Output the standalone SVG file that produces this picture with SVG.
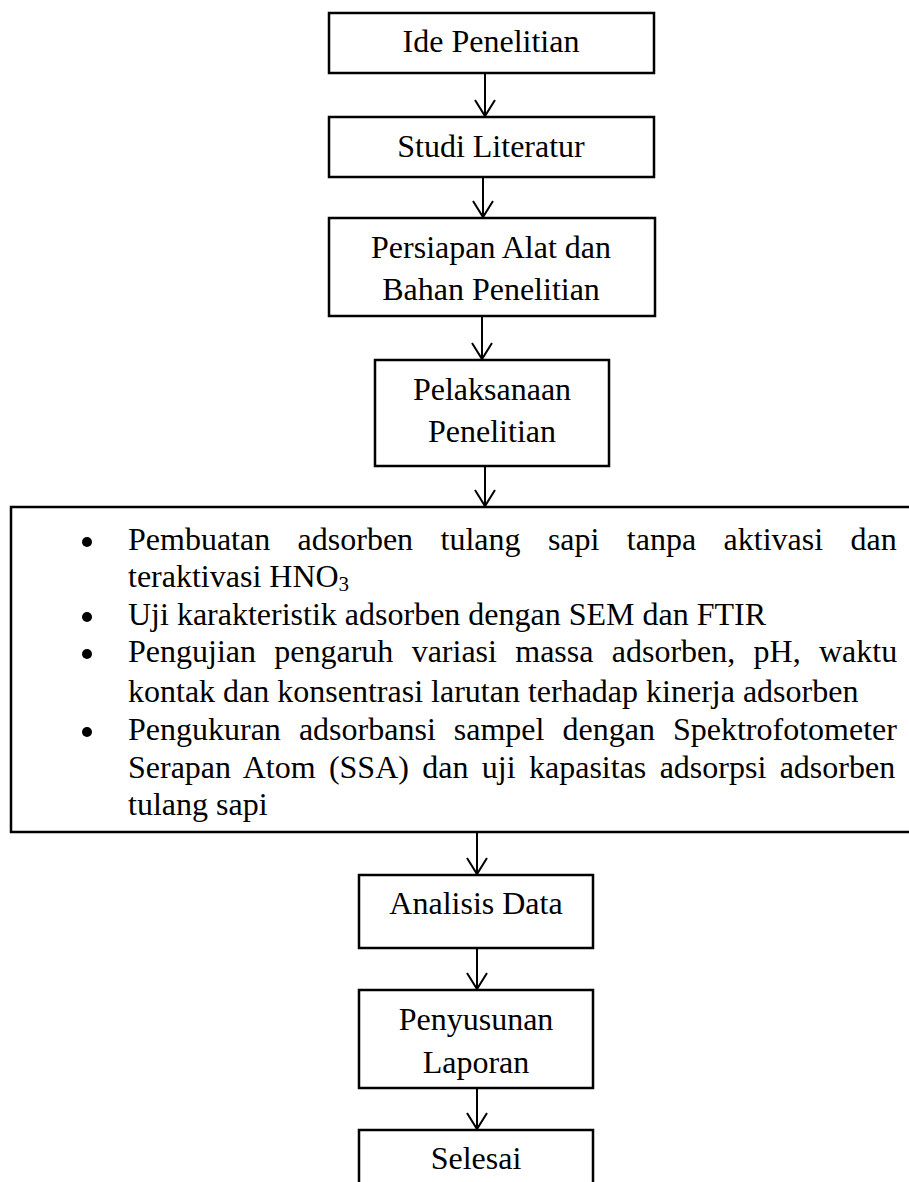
<svg xmlns="http://www.w3.org/2000/svg" width="909" height="1182" viewBox="0 0 909 1182">
<defs>
<style>
.box{fill:#fff;stroke:#000;stroke-width:2.5}
.lbl{font-family:"Liberation Serif","Times New Roman",serif;font-size:32px;fill:#000;text-anchor:middle}
.txt{font-family:"Liberation Serif","Times New Roman",serif;font-size:32px;fill:#000}
.con{fill:none;stroke:#000;stroke-width:2}
</style>
<marker id="ah" viewBox="-18 -12 20 24" refX="0" refY="0" markerWidth="20" markerHeight="24" markerUnits="userSpaceOnUse" orient="auto">
<path d="M-16,-10 L0,0 L-16,10" fill="none" stroke="#000" stroke-width="2"/>
</marker>
</defs>
<rect width="909" height="1182" fill="#fff"/>
<g id="connectors">
<line class="con" x1="485" y1="73" x2="485" y2="116" marker-end="url(#ah)"/>
<line class="con" x1="483" y1="177" x2="483" y2="217" marker-end="url(#ah)"/>
<line class="con" x1="482" y1="316" x2="482" y2="359" marker-end="url(#ah)"/>
<line class="con" x1="485" y1="466" x2="485" y2="506" marker-end="url(#ah)"/>
<line class="con" x1="477" y1="832" x2="477" y2="874" marker-end="url(#ah)"/>
<line class="con" x1="477" y1="948" x2="477" y2="989" marker-end="url(#ah)"/>
<line class="con" x1="477" y1="1088" x2="477" y2="1129" marker-end="url(#ah)"/>
</g>
<g id="ide">
<rect class="box" x="329" y="13" width="325" height="60"/>
<text class="lbl" x="491" y="52">Ide Penelitian</text>
</g>
<g id="studi">
<rect class="box" x="329" y="117" width="325" height="60"/>
<text class="lbl" x="491" y="157">Studi Literatur</text>
</g>
<g id="persiapan">
<rect class="box" x="329" y="218" width="326" height="98"/>
<text class="lbl" x="491" y="258">Persiapan Alat dan</text>
<text class="lbl" x="491" y="300">Bahan Penelitian</text>
</g>
<g id="pelaksanaan">
<rect class="box" x="375" y="360" width="234" height="106"/>
<text class="lbl" x="492" y="400">Pelaksanaan</text>
<text class="lbl" x="492" y="442">Penelitian</text>
</g>
<g id="kegiatan">
<rect class="box" x="11" y="507" width="920" height="325"/>
<circle cx="87" cy="542" r="5"/>
<circle cx="87" cy="617" r="5"/>
<circle cx="87" cy="654" r="5"/>
<circle cx="87" cy="732" r="5"/>
<text class="txt" x="128" y="550" word-spacing="19.4">Pembuatan adsorben tulang sapi tanpa aktivasi dan</text>
<text class="txt" x="128" y="587">teraktivasi HNO<tspan font-size="21" dy="4">3</tspan></text>
<text class="txt" x="128" y="625">Uji karakteristik adsorben dengan SEM dan FTIR</text>
<text class="txt" x="128" y="662" word-spacing="10.3">Pengujian pengaruh variasi massa adsorben, pH, waktu</text>
<text class="txt" x="128" y="702">kontak dan konsentrasi larutan terhadap kinerja adsorben</text>
<text class="txt" x="128" y="740" word-spacing="10.05">Pengukuran adsorbansi sampel dengan Spektrofotometer</text>
<text class="txt" x="128" y="778" word-spacing="5.36">Serapan Atom (SSA) dan uji kapasitas adsorpsi adsorben</text>
<text class="txt" x="128" y="815">tulang sapi</text>
</g>
<g id="analisis">
<rect class="box" x="359" y="875" width="234" height="73"/>
<text class="lbl" x="476" y="914">Analisis Data</text>
</g>
<g id="penyusunan">
<rect class="box" x="359" y="990" width="234" height="98"/>
<text class="lbl" x="476" y="1030">Penyusunan</text>
<text class="lbl" x="476" y="1073">Laporan</text>
</g>
<g id="selesai">
<rect class="box" x="359" y="1130" width="234" height="80"/>
<text class="lbl" x="476" y="1169">Selesai</text>
</g>
</svg>
